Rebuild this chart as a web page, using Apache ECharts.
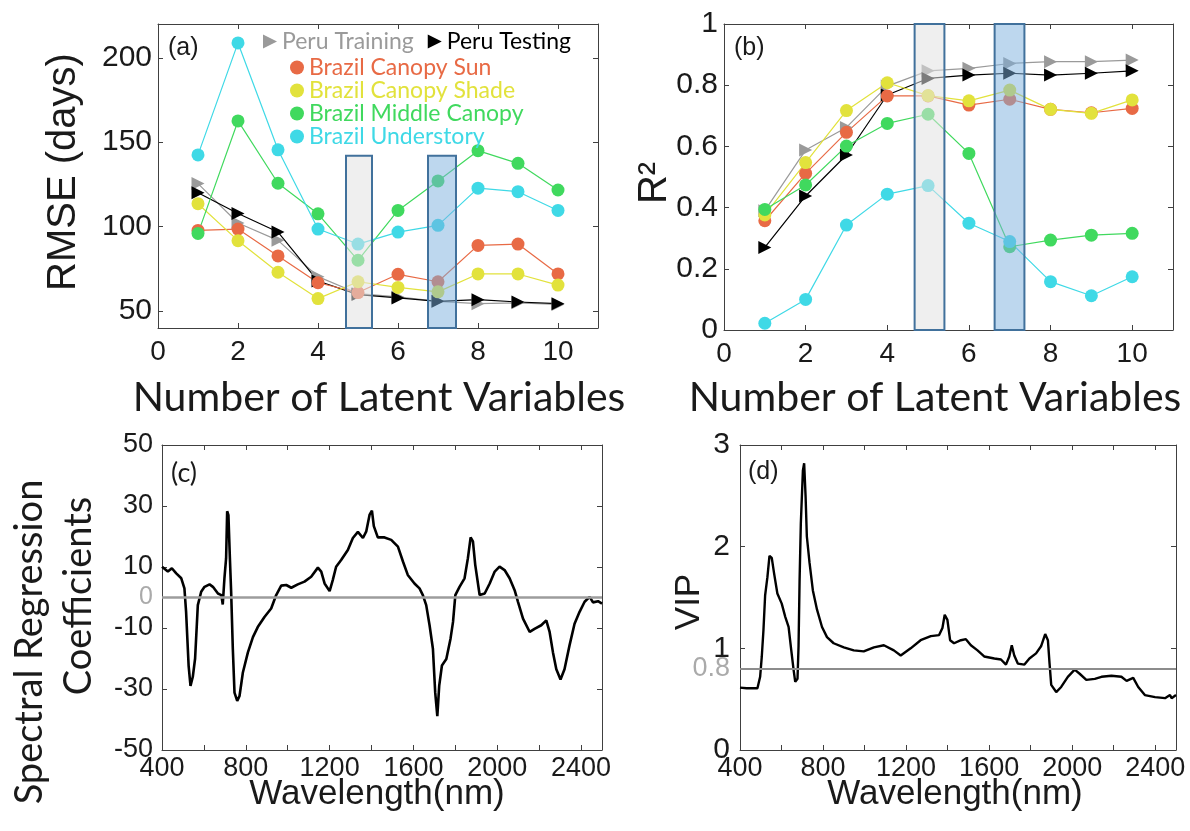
<!DOCTYPE html>
<html>
<head>
<meta charset="utf-8">
<script src="https://cdn.jsdelivr.net/npm/echarts@6/dist/echarts.min.js"></script>
<style>html,body{margin:0;padding:0;background:#fff;}#c{width:1190px;height:831px;}</style>
</head>
<body>
<div id="c"></div>
<script>
// ---------- DATA ----------
const latentVars = [1, 2, 3, 4, 5, 6, 7, 8, 9, 10];

const rmsePeruTraining = [125.5, 102.2, 91.9, 70.4, 60.4, 58.4, 55.8, 54.4, 54.9, 53.9];
const rmsePeruTesting  = [120.1, 107.8, 96.8, 67.8, 59.8, 57.8, 55.8, 56.8, 55.4, 54.4];
const rmseCanopySun    = [97.8, 98.6, 82.7, 66.8, 61.0, 71.8, 67.4, 88.9, 89.7, 72.0];
const rmseCanopyShade  = [113.6, 91.7, 73.0, 57.4, 67.4, 64.0, 61.4, 72.0, 72.0, 65.4];
const rmseMiddle       = [96.0, 162.6, 125.7, 107.6, 80.1, 109.6, 127.1, 145.0, 137.5, 121.7];
const rmseUnderstory   = [142.5, 208.8, 145.5, 98.6, 89.7, 96.8, 100.8, 122.8, 120.7, 109.6];

const r2PeruTraining = [0.39, 0.588, 0.662, 0.797, 0.847, 0.855, 0.871, 0.877, 0.877, 0.882];
const r2PeruTesting  = [0.270, 0.438, 0.572, 0.768, 0.822, 0.833, 0.839, 0.833, 0.839, 0.847];
const r2CanopySun    = [0.357, 0.512, 0.646, 0.765, 0.765, 0.735, 0.754, 0.721, 0.710, 0.724];
const r2CanopyShade  = [0.376, 0.547, 0.717, 0.808, 0.766, 0.749, 0.784, 0.721, 0.708, 0.752];
const r2Middle       = [0.394, 0.474, 0.601, 0.675, 0.705, 0.577, 0.272, 0.294, 0.310, 0.316];
const r2Understory   = [0.022, 0.100, 0.343, 0.444, 0.472, 0.349, 0.289, 0.158, 0.112, 0.174];

// highlighted latent-variable ranges: [xStart, xEnd]
const highlightRangesA = [[4.7, 5.35], [6.75, 7.45]];
const highlightRangesB = [[4.67, 5.40], [6.63, 7.36]];
const highlightTopA = 142;   // RMSE units
const highlightTopB = 1.0;   // R2 units

const specWl = [400,428,447,468,492,507,515,527,536,547,558,571,587,603,627,643,667,683,690,698,706,711,717,724,730,738,746,759,770,786,810,834,857,889,921,945,969,993,1017,1048,1080,1112,1144,1160,1176,1200,1215,1231,1255,1287,1311,1335,1359,1375,1391,1402,1411,1430,1462,1494,1526,1550,1573,1605,1629,1645,1661,1677,1693,1704,1714,1723,1736,1757,1777,1789,1800,1820,1844,1860,1873,1884,1895,1916,1940,1964,1988,2011,2035,2059,2083,2099,2123,2155,2178,2210,2234,2250,2266,2282,2302,2321,2345,2369,2393,2417,2441,2457,2481,2500];
const specCoef = [10.1,8.5,9.6,7.9,6.3,3.0,-4.7,-22.3,-29,-26,-20,-2.5,1.9,3.5,4.3,3.5,1.3,0.8,-2.3,6.3,12.9,28.3,27,12.9,1.9,-16.8,-31.2,-33.9,-32.3,-24.6,-18,-13,-9.7,-6.4,-3.6,0.8,3.9,4.1,3.2,4.3,5.2,6.8,9.8,8.5,4.6,2.1,5.7,10.1,12.3,15.6,19.5,21.5,19.5,21.7,27.2,28.5,23.4,19.7,19.7,18.9,16.7,11.8,7.4,4.6,3.0,0.8,-2.5,-9.1,-16.8,-31.2,-38.9,-29,-22.3,-20.2,-13.5,-8,0.8,3.5,6.3,12.9,19.7,18.4,10.7,0.8,1.3,4.6,8.5,10.1,9.0,6.3,2.4,-1.4,-6.9,-11.3,-10.3,-9.1,-7.5,-11.3,-18,-23.5,-26.9,-23.5,-15.7,-8.6,-4.7,-1.4,0.2,-1.6,-1.2,-2];

const vipWl = [400,432,484,497,505,513,521,532,542,553,564,580,601,618,634,647,658,666,677,682,687,693,703,709,716,722,735,751,771,795,819,851,900,948,996,1045,1093,1141,1174,1222,1270,1319,1359,1375,1386,1399,1412,1431,1464,1488,1512,1544,1576,1625,1657,1681,1697,1709,1721,1738,1770,1794,1826,1850,1870,1883,1891,1899,1923,1947,1979,2012,2036,2068,2109,2141,2189,2237,2262,2294,2318,2350,2399,2447,2471,2479,2500];
const vipVal = [0.613,0.607,0.607,0.72,0.92,1.18,1.52,1.70,1.91,1.89,1.74,1.54,1.44,1.31,1.21,0.98,0.79,0.67,0.70,1.02,1.67,2.23,2.75,2.82,2.49,2.10,1.84,1.57,1.38,1.21,1.11,1.05,1.01,0.98,0.97,1.01,1.03,0.98,0.93,1.00,1.08,1.12,1.13,1.20,1.33,1.28,1.08,1.05,1.08,1.09,1.03,0.98,0.92,0.90,0.89,0.84,0.92,1.03,0.93,0.85,0.84,0.90,0.95,1.02,1.14,1.08,0.85,0.64,0.57,0.62,0.72,0.79,0.75,0.69,0.70,0.72,0.73,0.72,0.68,0.71,0.62,0.54,0.52,0.51,0.54,0.51,0.54];

const specZeroLine = 0;
const vipThreshold = 0.8;

// tick labels
const lvTicks = [0, 2, 4, 6, 8, 10];
const rmseTicks = [50, 100, 150, 200];
const wlTicks = [400, 600, 800, 1000, 1200, 1400, 1600, 1800, 2000, 2200, 2400];
const wlLabels = [400, 800, 1200, 1600, 2000, 2400];

// ---------- STYLE ----------
const ARIAL = 'Liberation Sans';
const CALIBRI = 'Lato';
const AX = '#404040';
const TXT = '#1a1a1a';
const C = {
  train: '#9a9a9a', test: '#000000', sun: '#E86A45',
  shade: '#E2E23C', middle: '#40D95E', under: '#3FD9E6'
};
const triPath = 'path://M0,0 L10,5 L0,10 Z';
const plain = v => String(+(+v).toFixed(2));

const grids = [
  {left: 158, top: 24, width: 440, height: 304},
  {left: 724, top: 24, width: 449, height: 306},
  {left: 162, top: 445, width: 440, height: 305},
  {left: 740, top: 445, width: 436, height: 305}
];

function tickStyle(custom) {
  const t = {show: true, inside: true, length: 5, lineStyle: {color: AX}};
  if (custom) t.customValues = custom;
  return t;
}
function labelStyle(size, margin, custom) {
  const l = {color: TXT, fontFamily: ARIAL, fontSize: size, margin: margin, formatter: plain};
  if (custom) l.customValues = custom;
  return l;
}
function axis(gi, pos, min, max, interval, ticks, labels, size, margin, showLabels) {
  const a = {
    type: 'value', gridIndex: gi, position: pos, min: min, max: max,
    axisLine: {show: true, onZero: false, lineStyle: {color: AX, width: 1}},
    axisTick: tickStyle(ticks),
    splitLine: {show: false},
    axisLabel: showLabels ? labelStyle(size, margin, labels) : {show: false}
  };
  if (interval != null) a.interval = interval;
  return a;
}

const xAxes = [];
const yAxes = [];
[['bottom', true], ['top', false]].forEach(([pos, show]) => {
  xAxes.push(axis(0, pos, 0, 11, null, lvTicks, lvTicks, 28, 10, show));
  xAxes.push(axis(1, pos, 0, 11, null, lvTicks, lvTicks, 28, 10, show));
  xAxes.push(axis(2, pos, 400, 2500, null, wlTicks, wlLabels, 27, 5, show));
  xAxes.push(axis(3, pos, 400, 2500, null, wlTicks, wlLabels, 27, 5, show));
});
[['left', true], ['right', false]].forEach(([pos, show]) => {
  yAxes.push(axis(0, pos, 40, 220, null, rmseTicks, rmseTicks, 30, 6, show));
  yAxes.push(axis(1, pos, 0, 1, 0.2, null, null, 30, 6, show));
  yAxes.push(axis(2, pos, -50, 50, 20, null, null, 27, 9, show));
  yAxes.push(axis(3, pos, 0, 3, 1, null, null, 30, 10, show));
});

function pts(xs, ys) { return xs.map((x, i) => [x, ys[i]]); }

function lvSeries(name, color, values, gi, isTri) {
  return {
    name: name, type: 'line', xAxisIndex: gi, yAxisIndex: gi,
    data: pts(latentVars, values),
    symbol: isTri ? triPath : 'circle',
    symbolSize: 13,
    itemStyle: {color: color},
    lineStyle: {color: color, width: 1.2},
    showSymbol: true, animation: false, z: 3
  };
}

function boxSeries(gi, ranges, y0, y1) {
  return {
    type: 'custom', xAxisIndex: gi, yAxisIndex: gi, z: 20, silent: true, animation: false,
    data: ranges.map(r => [r[0], r[1], y0, y1]),
    renderItem: function (params, api) {
      const p0 = api.coord([api.value(0), api.value(3)]);
      const p1 = api.coord([api.value(1), api.value(2)]);
      const fill = params.dataIndex === 0 ? 'rgba(226,226,226,0.55)' : 'rgba(123,175,221,0.5)';
      return {
        type: 'rect',
        shape: {x: p0[0], y: p0[1], width: p1[0] - p0[0], height: p1[1] - p0[1]},
        style: {fill: fill, stroke: '#41719C', lineWidth: 2}
      };
    }
  };
}

const names = ['Peru Training', 'Peru Testing', 'Brazil Canopy Sun', 'Brazil Canopy Shade', 'Brazil Middle Canopy', 'Brazil Understory'];
const colors = [C.train, C.test, C.sun, C.shade, C.middle, C.under];
const rmseSets = [rmsePeruTraining, rmsePeruTesting, rmseCanopySun, rmseCanopyShade, rmseMiddle, rmseUnderstory];
const r2Sets = [r2PeruTraining, r2PeruTesting, r2CanopySun, r2CanopyShade, r2Middle, r2Understory];

const series = [];
names.forEach((n, i) => series.push(lvSeries(n, colors[i], rmseSets[i], 0, i < 2)));
names.forEach((n, i) => series.push(lvSeries(n, colors[i], r2Sets[i], 1, i < 2)));
series.push(boxSeries(0, highlightRangesA, 40, highlightTopA));
series.push(boxSeries(1, highlightRangesB, 0, highlightTopB));

series.push({
  type: 'line', xAxisIndex: 2, yAxisIndex: 2, data: pts(specWl, specCoef),
  symbol: 'none', lineStyle: {color: '#000', width: 2.6}, animation: false, z: 4,
  markLine: {
    silent: true, symbol: 'none', animation: false,
    lineStyle: {color: '#9c9c9c', width: 2.5, type: 'solid'},
    label: {position: 'start', formatter: String(specZeroLine), color: '#aaaaaa', fontFamily: ARIAL, fontSize: 25, distance: 9},
    data: [{yAxis: specZeroLine}]
  }
});
series.push({
  type: 'line', xAxisIndex: 3, yAxisIndex: 3, data: pts(vipWl, vipVal),
  symbol: 'none', lineStyle: {color: '#000', width: 2.4}, animation: false, z: 4,
  markLine: {
    silent: true, symbol: 'none', animation: false,
    lineStyle: {color: '#8c8c8c', width: 2, type: 'solid'},
    label: {position: 'start', formatter: String(vipThreshold), color: '#aaaaaa', fontFamily: ARIAL, fontSize: 27, distance: 10},
    data: [{yAxis: vipThreshold}]
  }
});

const legendText = {fontFamily: CALIBRI, fontSize: 23};
const option = {
  animation: false,
  backgroundColor: '#fff',
  grid: grids,
  xAxis: xAxes,
  yAxis: yAxes,
  legend: [
    {
      left: 258, top: 25, itemWidth: 14, itemHeight: 14, itemGap: 14, selectedMode: false,
      textStyle: legendText,
      data: [
        {name: 'Peru Training', icon: triPath, textStyle: {color: C.train}},
        {name: 'Peru Testing', icon: triPath, textStyle: {color: C.test}}
      ]
    },
    {
      left: 285, top: 51, orient: 'vertical', itemWidth: 14, itemHeight: 14, itemGap: 0, selectedMode: false,
      textStyle: legendText,
      data: [
        {name: 'Brazil Canopy Sun', icon: 'circle', textStyle: {color: C.sun}},
        {name: 'Brazil Canopy Shade', icon: 'circle', textStyle: {color: C.shade}},
        {name: 'Brazil Middle Canopy', icon: 'circle', textStyle: {color: C.middle}},
        {name: 'Brazil Understory', icon: 'circle', textStyle: {color: C.under}}
      ]
    }
  ],
  title: [
    {text: '(a)', left: 163, top: 31, textStyle: {fontFamily: ARIAL, fontSize: 25, fontWeight: 'normal', color: TXT}},
    {text: '(b)', left: 729, top: 31, textStyle: {fontFamily: ARIAL, fontSize: 25, fontWeight: 'normal', color: TXT}},
    {text: '(c)', left: 166, top: 455, textStyle: {fontFamily: CALIBRI, fontSize: 27, fontWeight: 'normal', color: TXT}},
    {text: '(d)', left: 743, top: 455, textStyle: {fontFamily: ARIAL, fontSize: 25, fontWeight: 'normal', color: TXT}}
  ],
  graphic: [
    {type: 'text', x: 64, y: 172, rotation: Math.PI / 2, style: {text: 'RMSE (days)', font: '40px "Liberation Sans"', fill: TXT, textAlign: 'center', textVerticalAlign: 'middle'}},
    {type: 'text', x: 379, y: 398, style: {text: 'Number of Latent Variables', font: '41px Lato', fill: TXT, textAlign: 'center', textVerticalAlign: 'middle'}},
    {type: 'text', x: 655, y: 183, rotation: Math.PI / 2, style: {text: 'R\u00B2', font: '40px "Liberation Sans"', fill: TXT, textAlign: 'center', textVerticalAlign: 'middle'}},
    {type: 'text', x: 935, y: 398, style: {text: 'Number of Latent Variables', font: '41px Lato', fill: TXT, textAlign: 'center', textVerticalAlign: 'middle'}},
    {type: 'text', x: 30, y: 642, rotation: Math.PI / 2, style: {text: 'Spectral Regression', font: '38px Lato', fill: TXT, textAlign: 'center', textVerticalAlign: 'middle'}},
    {type: 'text', x: 79, y: 596, rotation: Math.PI / 2, style: {text: 'Coefficients', font: '38px Lato', fill: TXT, textAlign: 'center', textVerticalAlign: 'middle'}},
    {type: 'text', x: 377, y: 794, style: {text: 'Wavelength(nm)', font: '35px "Liberation Sans"', fill: TXT, textAlign: 'center', textVerticalAlign: 'middle'}},
    {type: 'text', x: 689, y: 602, rotation: Math.PI / 2, style: {text: 'VIP', font: '35px "Liberation Sans"', fill: TXT, textAlign: 'center', textVerticalAlign: 'middle'}},
    {type: 'text', x: 955, y: 794, style: {text: 'Wavelength(nm)', font: '35px "Liberation Sans"', fill: TXT, textAlign: 'center', textVerticalAlign: 'middle'}}
  ],
  series: series
};

const chart = echarts.init(document.getElementById('c'), null, {renderer: 'canvas'});
chart.setOption(option);
</script>
</body>
</html>
